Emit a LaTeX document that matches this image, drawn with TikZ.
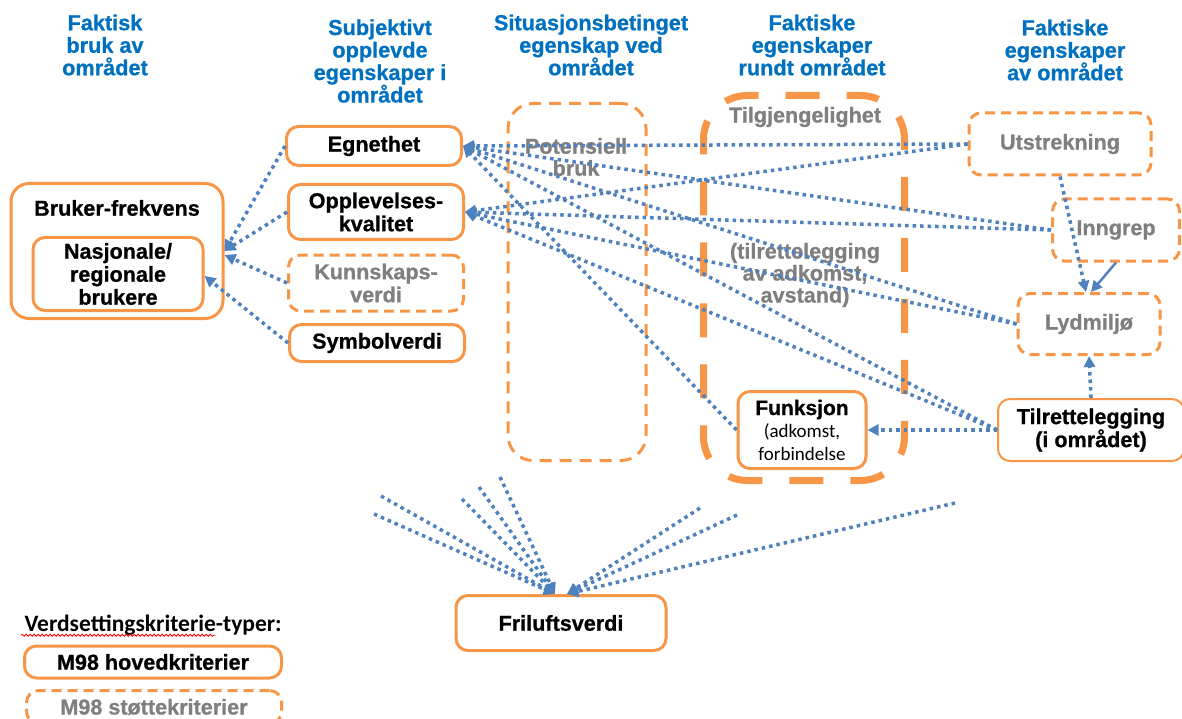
\documentclass[tikz,border=0pt]{standalone}
\usepackage{fontspec}
\setmainfont[BoldFeatures={FakeBold=0.8}]{Liberation Sans}
\newfontfamily\calfont{Carlito}
\usetikzlibrary{arrows.meta,decorations.pathmorphing}
\definecolor{boxorange}{HTML}{F79646}
\definecolor{lineblue}{HTML}{4F81BD}
\definecolor{headblue}{HTML}{0070C0}
\definecolor{txtgray}{HTML}{7F7F7F}
\begin{document}
\begin{tikzpicture}[x=1pt,y=-1pt,
    box/.style={draw=boxorange, line width=3pt, rounded corners=12pt, fill=white, align=center, inner sep=0pt, font=\bfseries\fontsize{21.6}{23}\selectfont},
    dbox/.style={box, dash pattern=on 10pt off 6pt, text=txtgray},
    heading/.style={text=headblue, align=center, font=\bfseries\fontsize{21.7}{22.5}\selectfont},
    grey/.style={text=txtgray, align=center, font=\bfseries\fontsize{21.6}{22}\selectfont},
    dots/.style={draw=lineblue, line width=3.5pt, dash pattern=on 3.5pt off 4pt},
    tip/.style={-{Triangle[length=11pt,width=11pt]}}]
    \useasboundingbox (0,0) rectangle (1182,719);

    \node[heading] (h1) at (105,45) {Faktisk\\bruk av\\området};
    \node[heading] (h2) at (380,61) {Subjektivt\\opplevde\\egenskaper i\\området};
    \node[heading] (h3) at (591,45) {Situasjonsbetinget\\egenskap ved\\området};
    \node[heading] (h4) at (812,45) {Faktiske\\egenskaper\\rundt området};
    \node[heading] (h5) at (1065,50) {Faktiske\\egenskaper\\av området};

    \node[draw=boxorange, line width=3pt, dash pattern=on 12pt off 8pt, rounded corners=25pt, minimum width=138pt, minimum height=357pt] (pot) at (577,282) {};
    \node[grey] (potlbl) at (576,157) {Potensiell\\bruk};
    \node[draw=boxorange, line width=7pt, dash pattern=on 34pt off 27pt, dash phase=20pt, rounded corners=44pt, minimum width=201pt, minimum height=385pt] (tilg) at (804,288) {};
    \node[grey] (tilglbl) at (805,117) {Tilgjengelighet};
    \node[grey] (adkomst) at (805,275) {(tilrettelegging\\av adkomst,\\avstand)};

    \node[box, minimum width=175pt, minimum height=39pt] (egn) at (374,146) {Egnethet};
    \node[box, minimum width=175pt, minimum height=55pt] (oppl) at (376,212) {Opplevelses-\\kvalitet};
    \node[dbox, minimum width=175pt, minimum height=56pt] (kunn) at (376,283) {Kunnskaps-\\verdi};
    \node[box, minimum width=175pt, minimum height=37pt] (symb) at (377,343) {Symbolverdi};
    \node[box, minimum width=212pt, minimum height=135pt, rounded corners=18pt] (bruker) at (117,251) {};
    \node[font=\bfseries\fontsize{21.6}{23}\selectfont] (brukerlbl) at (117,208) {Bruker-frekvens};
    \node[box, minimum width=170pt, minimum height=73pt] (nasj) at (118,274) {Nasjonale/\\regionale\\brukere};

    \node[box, font=\bfseries\fontsize{21}{22.5}\selectfont, minimum width=128pt, minimum height=77pt] (funk) at (802,430) {Funksjon\\{\calfont\mdseries\fontsize{19}{22}\selectfont (adkomst,}\\{\calfont\mdseries\fontsize{19}{22}\selectfont forbindelse}};
    \node[dbox, minimum width=182pt, minimum height=62pt] (utst) at (1060,144) {Utstrekning};
    \node[dbox, minimum width=127pt, minimum height=62pt] (inng) at (1116,230) {Inngrep};
    \node[dbox, minimum width=142pt, minimum height=61pt] (lyd) at (1089,324) {Lydmiljø};
    \node[box, line width=2pt, minimum width=186pt, minimum height=62pt] (tilr) at (1091,430) {Tilrettelegging\\(i området)};
    \node[box, minimum width=210pt, minimum height=55pt] (fril) at (561,623) {Friluftsverdi};

    \node[anchor=west, font=\calfont\bfseries\fontsize{23.5}{25}\selectfont] (legtitle) at (21,625) {Verdsettingskriterie-typer:};
    \draw[red, line width=0.8pt, decorate, decoration={snake, amplitude=1pt, segment length=4pt}] ([yshift=-4pt]legtitle.base west) -- ++(194,0);
    \node[box, minimum width=257pt, minimum height=32pt] (leg1) at (153,662) {M98 hovedkriterier};
    \node[dbox, minimum width=255pt, minimum height=33pt] (leg2) at (154,707) {M98 støttekriterier};

    \path[dots,tip] (egn.west) -- (bruker.east);
    \path[dots,tip] (oppl.west) -- (bruker.east);
    \path[dots,tip] (kunn.west) -- ([yshift=-4pt]bruker.east);
    \path[dots,tip] (symb.west) -- ([yshift=-2pt]nasj.east);

    \path[dots,tip] (utst.west) -- (egn.east);
    \path[dots,tip] (inng.west) -- (egn.east);
    \path[dots,tip] (lyd.west) -- (egn.east);
    \path[dots,tip] (tilr.west) -- (egn.east);
    \path[dots,tip] (funk.west) -- (egn.east);
    \path[dots,tip] (utst.west) -- (oppl.east);
    \path[dots,tip] (inng.west) -- (oppl.east);
    \path[dots,tip] (lyd.west) -- (oppl.east);
    \path[dots,tip] (tilr.west) -- (oppl.east);

    \path[dots,tip] (utst.south) -- ([xshift=-3pt]lyd.north);
    \path[draw=lineblue, line width=2.5pt, tip] (inng.south) -- ([xshift=2pt]lyd.north);
    \path[dots,tip] (tilr.north) -- (lyd.south);
    \path[dots,tip] (tilr.west) -- (funk.east);

    \coordinate (fl) at ([xshift=-6pt]fril.north);
    \coordinate (fr) at ([xshift=6pt]fril.north);
    \coordinate (a1) at (381,496);
    \coordinate (a2) at (374,514);
    \coordinate (a3) at (462,499);
    \coordinate (a4) at (479,487);
    \coordinate (a5) at (500,477);
    \coordinate (b1) at (700,508);
    \coordinate (b2) at (737,515);
    \coordinate (b3) at (955,503);
    \path[dots,tip] (a1) -- (fl);
    \path[dots,tip] (a2) -- (fl);
    \path[dots,tip] (a3) -- (fl);
    \path[dots,tip] (a4) -- (fl);
    \path[dots,tip] (a5) -- (fl);
    \path[dots,tip] (b1) -- (fr);
    \path[dots,tip] (b2) -- (fr);
    \path[dots,tip] (b3) -- (fr);
\end{tikzpicture}
\end{document}
